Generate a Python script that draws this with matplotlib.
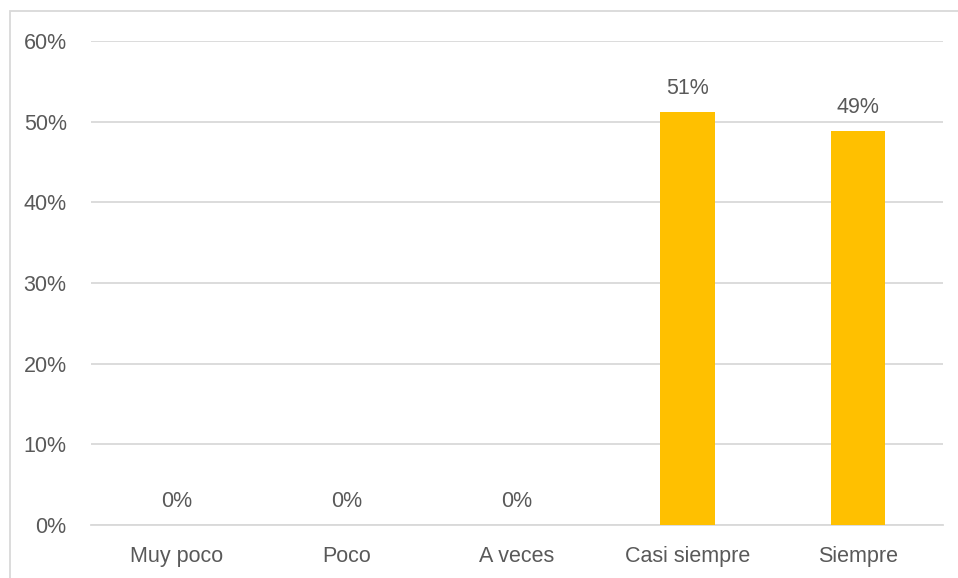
import matplotlib
matplotlib.use("Agg")
import matplotlib.pyplot as plt
from matplotlib.patches import Rectangle
from matplotlib.ticker import FuncFormatter

categories = ["Muy poco", "Poco", "A veces", "Casi siempre", "Siempre"]
values = [0.0, 0.0, 0.0, 0.512, 0.488]
labels = ["0%", "0%", "0%", "51%", "49%"]
yticks = [0, 0.1, 0.2, 0.3, 0.4, 0.5, 0.6]

DPI = 100
fig = plt.figure(figsize=(958 / DPI, 578 / DPI), dpi=DPI)
plt.rcParams['font.family'] = ['Liberation Sans', 'DejaVu Sans']
txt = "#595959"
grid = "#D9D9D9"
FS = 15.5

ax = fig.add_axes([91 / 958, 1 - 525 / 578, (943 - 91) / 958, (525 - 41) / 578])
x = list(range(len(categories)))
ax.bar(x, values, width=0.32, color="#FFC000", zorder=3)
ax.set_xlim(-0.5, len(categories) - 0.5)
ax.set_ylim(0, 0.6)
ax.set_yticks(yticks)
ax.yaxis.set_major_formatter(FuncFormatter(lambda v, p: f"{round(v*100)}%"))
ax.set_xticks(x)
ax.set_xticklabels(categories)
ax.grid(axis="y", color=grid, linewidth=1.3, zorder=0)
for s in ["top", "right", "left"]:
    ax.spines[s].set_visible(False)
ax.spines["bottom"].set_color(grid)
ax.spines["bottom"].set_linewidth(1.3)
ax.tick_params(axis="both", length=0, colors=txt, labelsize=FS)
ax.tick_params(axis="y", pad=17.5)
ax.tick_params(axis="x", pad=15)

for xi, v, lab in zip(x, values, labels):
    ax.annotate(lab, (xi, v), xytext=(0, 13), textcoords="offset points",
                ha="center", va="baseline", color=txt, fontsize=FS)

fig.patches.append(Rectangle((10 / 958, -0.05), 1.2, 1 - 11 / 578 + 0.05,
                             transform=fig.transFigure, fill=False,
                             edgecolor=grid, linewidth=1.3, clip_on=False))

fig.savefig("out.png", dpi=DPI)
